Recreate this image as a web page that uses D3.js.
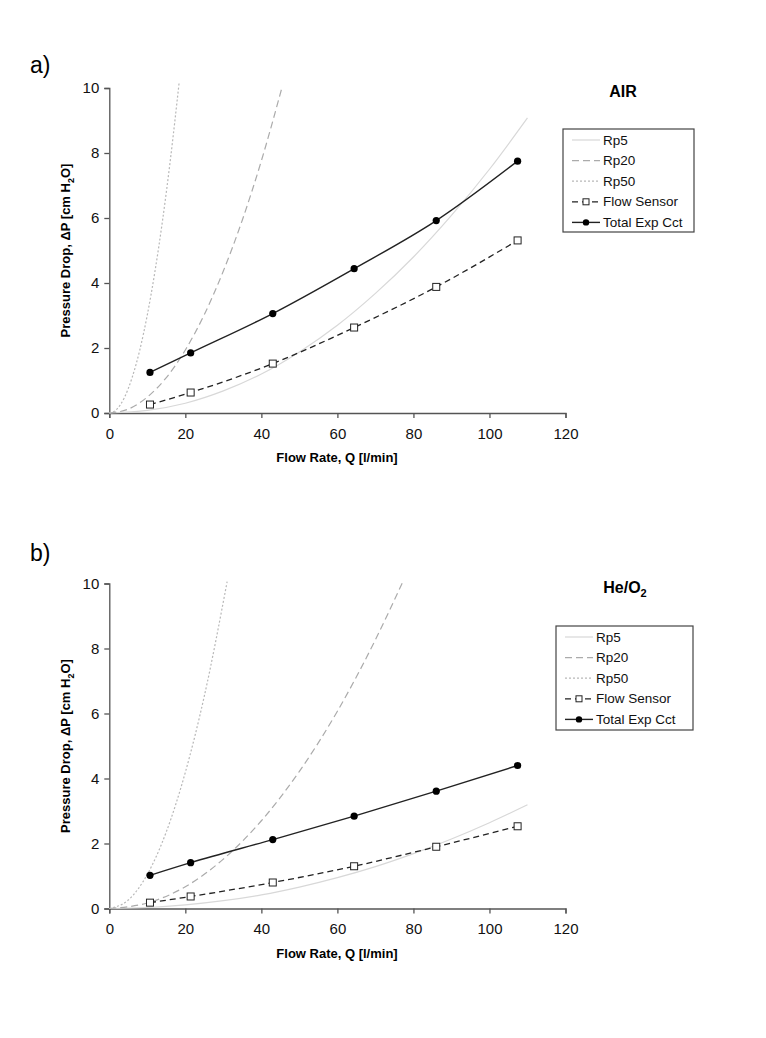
<!DOCTYPE html>
<html><head><meta charset="utf-8">
<script src="https://cdn.jsdelivr.net/npm/d3@7"></script>
<style>
body{margin:0;background:#fff;}
text{font-family:"Liberation Sans",Arial,sans-serif;}
</style></head>
<body><svg id="c" width="766" height="1038"></svg>
<script>
// ---- data ----
const xTicks = [0,20,40,60,80,100,120];
const yTicks = [0,2,4,6,8,10];
const seriesNames = ["Rp5","Rp20","Rp50","Flow Sensor","Total Exp Cct"];
const flowQ = [10.7,21.4,43,64.4,86,107.4];

// AIR
const airRp5Q = [0,10,20,30,40,50,60,70,80,90,100,110];
const airRp5P = [0,0.08,0.30,0.68,1.20,1.88,2.70,3.68,4.80,6.08,7.50,9.08];
const airRp20Q = [0,5,10,15,20,25,30,35,40,45.5];
const airRp20P = [0,0.12,0.49,1.09,1.94,3.03,4.37,5.94,7.76,10.05];
const airRp50Q = [0,2,4,6,8,10,12,14,16,18.4];
const airRp50P = [0,0.12,0.48,1.09,1.93,3.02,4.35,5.92,7.73,10.2];
const airSensor = [0.26,0.63,1.52,2.63,3.88,5.31];
const airTotal = [1.25,1.85,3.06,4.44,5.92,7.75];

// He/O2
const heRp5Q = [0,10,20,30,40,50,60,70,80,90,100,110];
const heRp5P = [0,0.03,0.11,0.24,0.42,0.66,0.95,1.29,1.69,2.14,2.64,3.19];
const heRp20Q = [0,10,20,30,40,50,60,70,77.2];
const heRp20P = [0,0.17,0.67,1.52,2.70,4.22,6.07,8.27,10.05];
const heRp50Q = [0,5,10,15,20,25,31];
const heRp50P = [0,0.26,1.05,2.36,4.19,6.54,10.06];
const heSensor = [0.18,0.37,0.80,1.30,1.90,2.53];
const heTotal = [1.02,1.41,2.12,2.84,3.61,4.40];

const zip = (a,b)=>a.map((v,i)=>[v,b[i]]);

const panels = [
  {label:"a)", title:"AIR", sub:null, top:88, lab:[30,73], titleXY:[623,97],
   legend:{x:563,y:129,w:131,h:103},
   rp5:zip(airRp5Q,airRp5P), rp20:zip(airRp20Q,airRp20P), rp50:zip(airRp50Q,airRp50P),
   sensor:zip(flowQ,airSensor), total:zip(flowQ,airTotal)},
  {label:"b)", title:"He/O", sub:"2", top:583.5, lab:[30,561], titleXY:[625,593],
   legend:{x:556,y:626,w:137,h:104},
   rp5:zip(heRp5Q,heRp5P), rp20:zip(heRp20Q,heRp20P), rp50:zip(heRp50Q,heRp50P),
   sensor:zip(flowQ,heSensor), total:zip(flowQ,heTotal)}
];

const svg = d3.select("#c");
const axisCol = "#555";
const styles = {
  rp5:{stroke:"#d8d8d8", dash:null, w:1.2},
  rp20:{stroke:"#ababab", dash:"7,4", w:1.2},
  rp50:{stroke:"#b8b8b8", dash:"2,2", w:1.2},
  sensor:{stroke:"#222", dash:"6,4", w:1.3},
  total:{stroke:"#222", dash:null, w:1.4}
};

panels.forEach(p=>{
  const x = d3.scaleLinear().domain([0,120]).range([109.3,565.5]);
  const y = d3.scaleLinear().domain([0,10]).range([p.top+325,p.top]);
  const g = svg.append("g");

  g.append("text").attr("x",p.lab[0]).attr("y",p.lab[1]).attr("font-size",23).text(p.label);

  const xa = g.append("g").attr("transform",`translate(0,${y(0)})`)
    .call(d3.axisBottom(x).tickValues(xTicks).tickSize(5).tickPadding(10));
  const ya = g.append("g").attr("transform",`translate(${x(0)},0)`)
    .call(d3.axisLeft(y).tickValues(yTicks).tickSize(5).tickPadding(5));
  [xa,ya].forEach(a=>{
    a.selectAll("path,line").attr("stroke",axisCol).attr("stroke-width",1.3);
    a.selectAll("text").attr("font-size",15).attr("fill","#111")
      .attr("font-family","'Liberation Sans',Arial,sans-serif");
  });

  // axis titles
  g.append("text").attr("x",337).attr("y",y(0)+49).attr("text-anchor","middle")
    .attr("font-size",13).attr("font-weight","bold").text("Flow Rate, Q [l/min]");
  const yt = g.append("text").attr("transform",`translate(70,${y(5)}) rotate(-90)`)
    .attr("text-anchor","middle").attr("font-size",13).attr("font-weight","bold");
  yt.append("tspan").text("Pressure Drop, \u0394P [cm H");
  yt.append("tspan").attr("font-size",9).attr("dy",4).text("2");
  yt.append("tspan").attr("dy",-4).text("O]");

  // panel title
  const tt = g.append("text").attr("x",p.titleXY[0]).attr("y",p.titleXY[1])
    .attr("text-anchor","middle").attr("font-size",16).attr("font-weight","bold");
  tt.append("tspan").text(p.title);
  if(p.sub){ tt.append("tspan").attr("font-size",11).attr("dy",4).text(p.sub); }

  const line = d3.line().x(d=>x(d[0])).y(d=>y(d[1])).curve(d3.curveMonotoneX);
  ["rp5","rp20","rp50","sensor","total"].forEach(k=>{
    const s = styles[k];
    g.append("path").attr("d",line(p[k])).attr("fill","none")
      .attr("stroke",s.stroke).attr("stroke-width",s.w)
      .attr("stroke-dasharray",s.dash);
  });
  g.selectAll(".sq").data(p.sensor).join("rect")
    .attr("x",d=>x(d[0])-3.5).attr("y",d=>y(d[1])-3.5).attr("width",7).attr("height",7)
    .attr("fill","#fff").attr("stroke","#222").attr("stroke-width",1);
  g.selectAll(".dot").data(p.total).join("circle")
    .attr("cx",d=>x(d[0])).attr("cy",d=>y(d[1])).attr("r",3.6).attr("fill","#000");

  // legend
  const L = p.legend;
  const lg = g.append("g").attr("transform",`translate(${L.x},${L.y})`);
  lg.append("rect").attr("width",L.w).attr("height",L.h).attr("fill","#fff")
    .attr("stroke","#444").attr("stroke-width",1.2);
  const keys = ["rp5","rp20","rp50","sensor","total"];
  keys.forEach((k,i)=>{
    const yy = 11 + i*20.6;
    const s = styles[k];
    lg.append("line").attr("x1",9).attr("x2",37).attr("y1",yy).attr("y2",yy)
      .attr("stroke",s.stroke).attr("stroke-width",s.w).attr("stroke-dasharray",s.dash);
    if(k==="sensor") lg.append("rect").attr("x",20).attr("y",yy-3).attr("width",6).attr("height",6)
      .attr("fill","#fff").attr("stroke","#222");
    if(k==="total") lg.append("circle").attr("cx",23).attr("cy",yy).attr("r",3.2).attr("fill","#000");
    lg.append("text").attr("x",40).attr("y",yy+4.5).attr("font-size",13.5).attr("fill","#111")
      .text(seriesNames[i]);
  });
});
</script></body></html>
